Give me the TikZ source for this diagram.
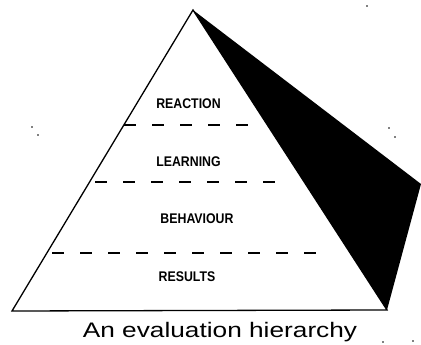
\documentclass[tikz,border=0pt]{standalone}
\usepackage{fontspec}
\setmainfont{Liberation Sans}
\begin{document}
\begin{tikzpicture}[x=1pt,y=-1pt,
  edge/.style={line width=1.3pt,line join=miter},
  divider/.style={line width=1.6pt,dash pattern=on 12pt off 16pt},
  level/.style={inner sep=0pt,font=\fontsize{14}{14}\selectfont\bfseries,xscale=0.88},
  speck/.style={fill=black,circle,inner sep=0pt,minimum size=1.6pt}]
\useasboundingbox (0,0) rectangle (421,345);
\coordinate (apex) at (193,10);
\coordinate (bl) at (12,311);
\coordinate (br) at (387,310);
\coordinate (sh) at (421,184);
% shadow face
\fill[black] (apex) -- (sh) -- (br) -- cycle;
% front face
\draw[edge] (apex) -- (bl) -- (br) -- cycle;
% dividers
\coordinate (d1a) at (124,125); \coordinate (d1b) at (252,125);
\coordinate (d2a) at (95,182);  \coordinate (d2b) at (280,182);
\coordinate (d3a) at (52,253);  \coordinate (d3b) at (325,253);
\draw[divider] (d1a) -- (d1b);
\draw[divider] (d2a) -- (d2b);
\draw[divider] (d3a) -- (d3b);
% labels
\node[level] (reaction) at (188.5,104) {REACTION};
\node[level] (learning) at (188.5,162) {LEARNING};
\node[level] (behaviour) at (197,219) {BEHAVIOUR};
\node[level] (results) at (187,277) {RESULTS};
\node[inner sep=0pt,font=\fontsize{21}{21}\selectfont,xscale=1.25,anchor=base] (caption) at (220,337) {An evaluation hierarchy};
% scan specks
\node[speck] (s1) at (367,6) {};
\node[speck] (s2) at (32,127) {};
\node[speck] (s3) at (38,135) {};
\node[speck] (s4) at (389,128) {};
\node[speck] (s5) at (395,137) {};
\node[speck] (s6) at (383,342) {};
\node[speck] (s7) at (413,341) {};
\end{tikzpicture}
\end{document}
